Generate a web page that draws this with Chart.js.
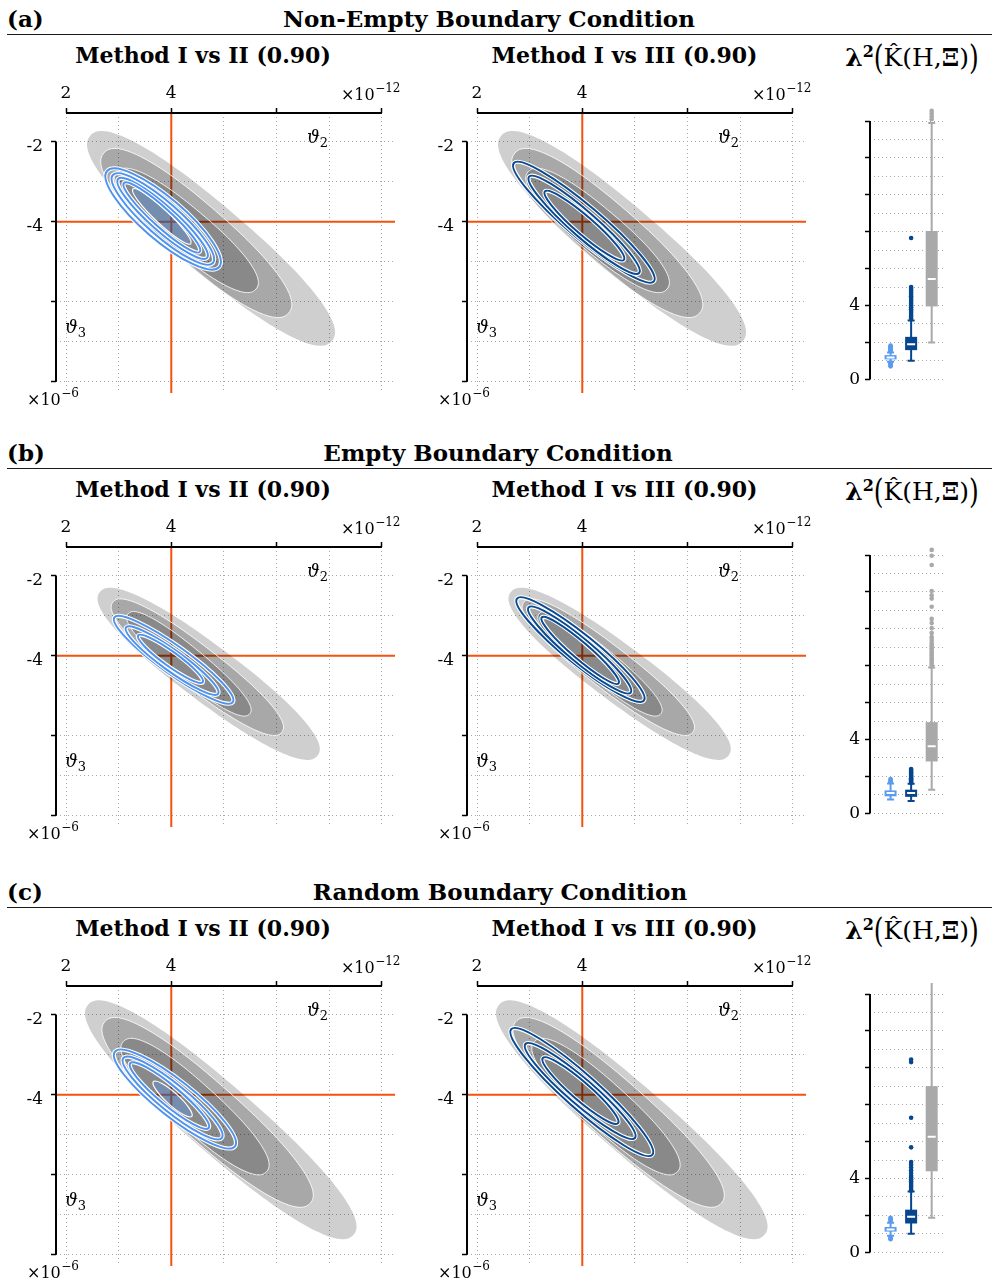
<!DOCTYPE html>
<html>
<head>
<meta charset="utf-8">
<title>Boundary condition comparison</title>
<script src="https://cdn.jsdelivr.net/npm/chart.js@4.4.0/dist/chart.umd.min.js"></script>
<style>
  body { margin: 0; background: #fff; font-family: 'DejaVu Serif', serif; }
  #page { position: relative; width: 992px; height: 1284px; overflow: hidden; }
  .txt { position: absolute; white-space: nowrap; color: #000; line-height: 1; }
  .rule { position: absolute; left: 7px; width: 985px; height: 1.5px; background: #1a1a1a; }
  .big { display: inline-block; transform: scaleY(1.35); }
  canvas { position: absolute; }
</style>
</head>
<body>
<div id="page"></div>
<script>
// ---- text ----
var rowTags = ['(a)', '(b)', '(c)'];
var rowTitles = ['Non-Empty Boundary Condition', 'Empty Boundary Condition', 'Random Boundary Condition'];
var panelTitles = ['Method I vs II (0.90)', 'Method I vs III (0.90)'];

// ---- axes (theta2 x1e-12, theta3 x1e-6, lambda^2) ----
var th2Ticks = [2, 3, 4, 5, 6, 7, 8];
var th2Major = [2, 4, 6, 8];
var th2Labeled = [2, 4];
var th3Ticks = [-8, -7, -6, -5, -4, -3, -2];
var th3Major = [-8, -6, -4, -2];
var th3Labeled = [-4, -2];
var lamTicks = [0, 1, 2, 3, 4, 5, 6, 7, 8, 9, 10, 11, 12, 13, 14];
var lamMajor = [0, 2, 4, 6, 8, 10, 12, 14];
var lamLabeled = [0, 4];
var trueTheta = [4, -4];

// ---- density contours: [th2 tip1, th3 tip1, th2 tip2, th3 tip2, half width in th2] ----
var grayA = [[2.46, -1.85, 7.05, -6.98, 0.95], [2.72, -2.28, 6.23, -6.28, 0.82], [2.97, -2.75, 5.61, -5.68, 0.63]];
var linesA2 = [[2.78, -2.73, 4.91, -5.13, 0.58], [2.89, -2.83, 4.79, -5.03, 0.46], [2.99, -2.93, 4.68, -4.90, 0.35], [3.10, -3.03, 4.54, -4.75, 0.26]];
var coreA2 = [[3.27, -3.18, 4.37, -4.55, 0.19]];
var linesA3 = [[2.70, -2.53, 5.36, -5.49, 0.47], [2.99, -2.87, 5.08, -5.28, 0.36], [3.29, -3.24, 4.79, -4.95, 0.26]];

var grayB = [[2.64, -2.41, 6.78, -6.49, 0.85], [2.89, -2.66, 6.10, -5.91, 0.64], [3.18, -2.95, 5.49, -5.45, 0.46]];
var linesB2 = [[2.92, -3.04, 5.17, -5.16, 0.44], [3.14, -3.29, 4.89, -4.95, 0.33], [3.37, -3.49, 4.60, -4.66, 0.23]];
var coreB2 = [];
var linesB3 = [[2.76, -2.57, 5.17, -5.12, 0.44], [2.98, -2.79, 4.92, -4.92, 0.34], [3.23, -3.04, 4.69, -4.69, 0.24]];

var grayC = [[2.42, -1.75, 7.46, -7.50, 0.96], [2.74, -2.17, 6.64, -6.71, 0.82], [3.09, -2.67, 5.81, -5.92, 0.62]];
var linesC2 = [[2.93, -2.92, 5.21, -5.29, 0.53], [3.09, -3.08, 4.96, -5.08, 0.40], [3.22, -3.21, 4.71, -4.83, 0.29]];
var coreC2 = [[3.66, -3.67, 4.39, -4.54, 0.17]];
var linesC3 = [[2.65, -2.36, 5.33, -5.50, 0.47], [2.92, -2.73, 5.00, -5.08, 0.365], [3.25, -3.08, 4.68, -4.71, 0.26]];

// ---- lambda^2 boxes: methods II, III, I ; [low whisker, q1, median, q3, high whisker] ----
var boxMethods = ['II', 'III', 'I'];
var statsA = [[0.95, 1.08, 1.18, 1.31, 1.45], [1.00, 1.58, 1.90, 2.30, 3.19], [1.99, 3.95, 5.43, 8.04, 13.9]];
var outA = [
  [1.52, 1.58, 1.63, 1.68, 1.73, 1.78, 1.83, 0.90, 0.85, 0.80, 0.75, 0.70],
  [3.3, 3.4, 3.5, 3.6, 3.7, 3.8, 3.9, 4.0, 4.1, 4.2, 4.3, 4.4, 4.5, 4.6, 4.7, 4.8, 4.9, 5.0, 7.66],
  [14.1, 14.25, 14.4, 14.55]
];
var statsB = [[0.75, 0.92, 1.10, 1.24, 1.62], [0.66, 0.89, 1.10, 1.28, 1.60], [1.28, 2.81, 3.64, 4.94, 7.90]];
var outB = [
  [1.68, 1.74, 1.80, 1.86],
  [1.66, 1.72, 1.78, 1.84, 1.90, 1.96, 2.02, 2.08, 2.14, 2.20, 2.27, 2.34, 2.40],
  [7.95, 8.05, 8.15, 8.25, 8.35, 8.45, 8.55, 8.65, 8.75, 8.85, 8.95, 9.05, 9.15, 9.25, 9.4, 9.55,
   9.78, 10.04, 10.31, 10.54, 11.2, 11.64, 11.82, 12.05, 13.46, 13.96, 14.28]
];
var statsC = [[0.89, 1.12, 1.24, 1.37, 1.60], [1.01, 1.56, 1.92, 2.31, 3.29], [1.87, 4.39, 6.26, 9.01, 15.0]];
var outC = [
  [1.69, 1.75, 1.81, 1.87, 0.80, 0.75, 0.71],
  [3.35, 3.45, 3.55, 3.65, 3.75, 3.85, 3.95, 4.05, 4.15, 4.3, 4.45, 4.6, 4.75, 4.89, 5.69, 7.29, 10.31, 10.45],
  []
];

var boxColors = ['#5a9bf0', '#07468e', '#a9a9a9'];
var lightBlue = '#4f93ee';
var darkBlue = '#0a4a92';
var FONT = "'DejaVu Serif', serif";

Chart.defaults.font.family = FONT;
var page = document.getElementById('page');

function addText(html, x, baseline, size, bold, center) {
  var d = document.createElement('div');
  d.className = 'txt';
  d.innerHTML = html;
  d.style.fontSize = size + 'px';
  d.style.fontWeight = bold ? 'bold' : 'normal';
  d.style.top = (baseline - 0.846 * size) + 'px';
  if (center) {
    d.style.left = (x - 300) + 'px';
    d.style.width = '600px';
    d.style.textAlign = 'center';
  } else {
    d.style.left = x + 'px';
  }
  page.appendChild(d);
}

// rounded ellipse through the two tips; p = 2 is a plain ellipse
function blobPath(ctx, xs, ys, e, p) {
  var ax = xs.getPixelForValue(e[0]), ay = ys.getPixelForValue(e[1]);
  var bx = xs.getPixelForValue(e[2]), by = ys.getPixelForValue(e[3]);
  var cx = (ax + bx) / 2, cy = (ay + by) / 2;
  var A = Math.hypot(bx - ax, by - ay) / 2;
  var phi = Math.atan2(by - ay, bx - ax);
  var h = Math.abs(xs.getPixelForValue((e[0] + e[2]) / 2 + e[4]) - cx);
  var s = Math.sin(phi), c = Math.cos(phi);
  var B = h * A * Math.abs(s) / Math.sqrt(Math.max(A * A - h * h * c * c, 1));
  ctx.beginPath();
  if (p === 2) {
    ctx.ellipse(cx, cy, A, B, phi, 0, Math.PI * 2);
    return;
  }
  for (var k = 0; k <= 160; k++) {
    var t = k / 160 * Math.PI * 2;
    var ct = Math.cos(t), st = Math.sin(t);
    var u = A * Math.sign(ct) * Math.pow(Math.abs(ct), 2 / p);
    var w = B * Math.sign(st) * Math.pow(Math.abs(st), 2 / p);
    var X = cx + u * c - w * s, Y = cy + u * s + w * c;
    if (k) ctx.lineTo(X, Y); else ctx.moveTo(X, Y);
  }
  ctx.closePath();
}

function drawPow(ctx, x, y, exp, align) {
  ctx.font = '16px ' + FONT;
  var wb = ctx.measureText('×10').width;
  ctx.font = '12px ' + FONT;
  var ws = ctx.measureText(exp).width;
  var x0 = align === 'right' ? x - wb - ws : x;
  ctx.textAlign = 'left';
  ctx.textBaseline = 'alphabetic';
  ctx.font = '16px ' + FONT;
  ctx.fillText('×10', x0, y);
  ctx.font = '12px ' + FONT;
  ctx.fillText(exp, x0 + wb + 0.5, y - 8);
}

function drawSym(ctx, x, y, sub) {
  ctx.textAlign = 'left';
  ctx.textBaseline = 'alphabetic';
  ctx.font = 'italic 18px ' + FONT;
  ctx.fillText('ϑ', x, y);
  var w = ctx.measureText('ϑ').width;
  ctx.font = '13px ' + FONT;
  ctx.fillText(sub, x + w, y + 4);
}

function makeContourPlugin(gray, lines, core, color) {
  return {
    id: 'contours',
    beforeDatasetsDraw: function(chart) {
      var ctx = chart.ctx, a = chart.chartArea;
      var xs = chart.scales.x, ys = chart.scales.y;
      ctx.save();
      ctx.beginPath();
      ctx.rect(a.left, a.top, a.right - a.left, a.bottom - a.top);
      ctx.clip();
      // true parameter
      var tx = xs.getPixelForValue(trueTheta[0]), ty = ys.getPixelForValue(trueTheta[1]);
      ctx.strokeStyle = '#f4530f';
      ctx.lineWidth = 2;
      ctx.beginPath();
      ctx.moveTo(tx, a.top); ctx.lineTo(tx, a.bottom);
      ctx.moveTo(a.left, ty); ctx.lineTo(a.right, ty);
      ctx.stroke();
      // Method I levels
      gray.forEach(function(e, i) {
        blobPath(ctx, xs, ys, e, 2.3);
        ctx.fillStyle = 'rgba(0,0,0,0.19)';
        ctx.fill();
        if (i > 0) {
          ctx.strokeStyle = 'rgba(255,255,255,0.85)';
          ctx.lineWidth = 1;
          ctx.stroke();
        }
      });
      core.forEach(function(e) {
        blobPath(ctx, xs, ys, e, 2);
        ctx.fillStyle = 'rgba(85,150,240,0.38)';
        ctx.fill();
        ctx.strokeStyle = '#fff';
        ctx.lineWidth = 1.2;
        ctx.stroke();
      });
      lines.forEach(function(e) {
        blobPath(ctx, xs, ys, e, 2);
        ctx.strokeStyle = '#fff';
        ctx.lineWidth = 4.2;
        ctx.stroke();
        ctx.strokeStyle = color;
        ctx.lineWidth = 2;
        ctx.stroke();
      });
      ctx.restore();
    },
    afterDraw: function(chart) {
      var ctx = chart.ctx, a = chart.chartArea;
      var xs = chart.scales.x, ys = chart.scales.y;
      ctx.save();
      ctx.strokeStyle = '#000';
      ctx.lineWidth = 2;
      ctx.beginPath();
      ctx.moveTo(xs.getPixelForValue(th2Major[0]), a.top);
      ctx.lineTo(xs.getPixelForValue(th2Major[th2Major.length - 1]), a.top);
      ctx.moveTo(a.left, ys.getPixelForValue(th3Major[0]));
      ctx.lineTo(a.left, ys.getPixelForValue(th3Major[th3Major.length - 1]));
      ctx.stroke();
      ctx.fillStyle = '#000';
      drawPow(ctx, a.right + 5, a.top - 13, '−12', 'right');
      drawPow(ctx, a.left - 29, a.bottom + 12, '−6', 'left');
      drawSym(ctx, a.left + 251, a.top + 30, '2');
      drawSym(ctx, a.left + 9, a.top + 220, '3');
      ctx.restore();
    }
  };
}

function makeBoxPlugin(stats) {
  return {
    id: 'boxes',
    beforeDatasetsDraw: function(chart) {
      var ctx = chart.ctx, a = chart.chartArea;
      var xs = chart.scales.x, ys = chart.scales.y;
      ctx.save();
      ctx.beginPath();
      ctx.rect(a.left, a.top, a.right - a.left, a.bottom - a.top);
      ctx.clip();
      stats.forEach(function(s, i) {
        var cx = xs.getPixelForValue(i + 1);
        var lo = ys.getPixelForValue(s[0]), q1 = ys.getPixelForValue(s[1]);
        var md = ys.getPixelForValue(s[2]), q3 = ys.getPixelForValue(s[3]);
        var hi = ys.getPixelForValue(s[4]);
        ctx.strokeStyle = boxColors[i];
        ctx.lineWidth = 2;
        ctx.beginPath();
        ctx.moveTo(cx, lo); ctx.lineTo(cx, hi);
        ctx.moveTo(cx - 3.5, lo); ctx.lineTo(cx + 3.5, lo);
        ctx.moveTo(cx - 3.5, hi); ctx.lineTo(cx + 3.5, hi);
        ctx.stroke();
        ctx.fillStyle = boxColors[i];
        ctx.fillRect(cx - 6, q3, 12, q1 - q3);
        ctx.strokeStyle = '#fff';
        ctx.beginPath();
        ctx.moveTo(cx - 4, md); ctx.lineTo(cx + 4, md);
        ctx.stroke();
      });
      ctx.restore();
    },
    afterDraw: function(chart) {
      var ctx = chart.ctx, a = chart.chartArea, ys = chart.scales.y;
      ctx.save();
      ctx.strokeStyle = '#000';
      ctx.lineWidth = 2;
      ctx.beginPath();
      ctx.moveTo(a.left, ys.getPixelForValue(lamMajor[0]));
      ctx.lineTo(a.left, ys.getPixelForValue(lamMajor[lamMajor.length - 1]));
      ctx.stroke();
      ctx.restore();
    }
  };
}

function axisOpts(ticks, major, labeled, extra) {
  var o = {
    type: 'linear',
    afterBuildTicks: function(s) { s.ticks = ticks.map(function(v) { return { value: v }; }); },
    ticks: {
      autoSkip: false, maxRotation: 0, color: '#000',
      font: { family: FONT, size: 17 },
      callback: function(v) { return labeled.indexOf(v) >= 0 ? String(v) : ''; }
    },
    grid: {
      color: '#a8a8a8', lineWidth: 1, drawTicks: true, tickLength: 5, tickWidth: 1.5,
      tickColor: function(c) { return c.tick && major.indexOf(c.tick.value) >= 0 ? '#000' : 'rgba(0,0,0,0)'; }
    },
    border: { display: false, dash: [1, 3] }
  };
  for (var k in extra) {
    if (k === 'ticks') Object.assign(o.ticks, extra.ticks);
    else o[k] = extra[k];
  }
  return o;
}

function contourChart(left, top, gray, lines, core, color) {
  var cv = document.createElement('canvas');
  cv.width = 410; cv.height = 343;
  cv.style.left = left + 'px'; cv.style.top = top + 'px';
  page.appendChild(cv);
  return new Chart(cv, {
    type: 'scatter',
    data: { datasets: [] },
    options: {
      responsive: false, animation: false,
      layout: { padding: { left: 0, top: 0, right: 15, bottom: 20 } },
      plugins: { legend: { display: false }, tooltip: { enabled: false } },
      scales: {
        x: axisOpts(th2Ticks, th2Major, th2Labeled, {
          position: 'top', min: 1.81, max: 8.25,
          afterFit: function(s) { s.height = 43; },
          ticks: { padding: 4 }
        }),
        y: axisOpts(th3Ticks, th3Major, th3Labeled, {
          min: -8.28, max: -1.28,
          afterFit: function(s) { s.width = 56; },
          ticks: { padding: 8, labelOffset: 4.5 }
        })
      }
    },
    plugins: [makeContourPlugin(gray, lines, core, color)]
  });
}

function boxChart(left, top, stats, outliers) {
  var cv = document.createElement('canvas');
  cv.width = 172; cv.height = 330;
  cv.style.left = left + 'px'; cv.style.top = top + 'px';
  page.appendChild(cv);
  return new Chart(cv, {
    type: 'scatter',
    data: {
      datasets: outliers.map(function(arr, i) {
        return {
          label: 'Method ' + boxMethods[i],
          data: arr.map(function(v) { return { x: i + 1, y: v }; }),
          backgroundColor: boxColors[i], borderWidth: 0, pointRadius: 2.3, clip: false
        };
      })
    },
    options: {
      responsive: false, animation: false,
      layout: { padding: { left: 0, top: 40, right: 49, bottom: 10.8 } },
      plugins: { legend: { display: false }, tooltip: { enabled: false } },
      scales: {
        x: { type: 'linear', display: false, min: 0, max: 3.55 },
        y: axisOpts(lamTicks, lamMajor, lamLabeled, {
          min: -0.3, max: 14.6,
          afterFit: function(s) { s.width = 50; },
          ticks: { padding: 5 }
        })
      }
    },
    plugins: [makeBoxPlugin(stats)]
  });
}

var ROW_Y = [0, 434, 873];
var TITLE_X = [489, 498, 500];
var rows = [
  { gray: grayA, l2: linesA2, c2: coreA2, l3: linesA3, stats: statsA, out: outA },
  { gray: grayB, l2: linesB2, c2: coreB2, l3: linesB3, stats: statsB, out: outB },
  { gray: grayC, l2: linesC2, c2: coreC2, l3: linesC3, stats: statsC, out: outC }
];

rows.forEach(function(r, i) {
  var oy = ROW_Y[i];
  addText(rowTags[i], 7, 26 + oy, 23, true, false);
  addText(rowTitles[i], TITLE_X[i], 26 + oy, 23, true, true);
  var rule = document.createElement('div');
  rule.className = 'rule';
  rule.style.top = (33.7 + oy) + 'px';
  page.appendChild(rule);
  addText(panelTitles[0], 203, 63 + oy, 22, true, true);
  addText(panelTitles[1], 624.5, 63 + oy, 22, true, true);
  addText('<b>λ</b><b style="position:relative;top:-9px;font-size:16px">2</b><span class="big">(</span>K\u0302(H,<b>Ξ</b>)<span class="big">)</span>',
    912, 66 + oy, 25, false, true);
  contourChart(0, 70 + oy, r.gray, r.l2, r.c2, lightBlue);
  contourChart(411, 70 + oy, r.gray, r.l3, [], darkBlue);
  boxChart(820, 70 + oy, r.stats, r.out);
});
</script>
</body>
</html>
